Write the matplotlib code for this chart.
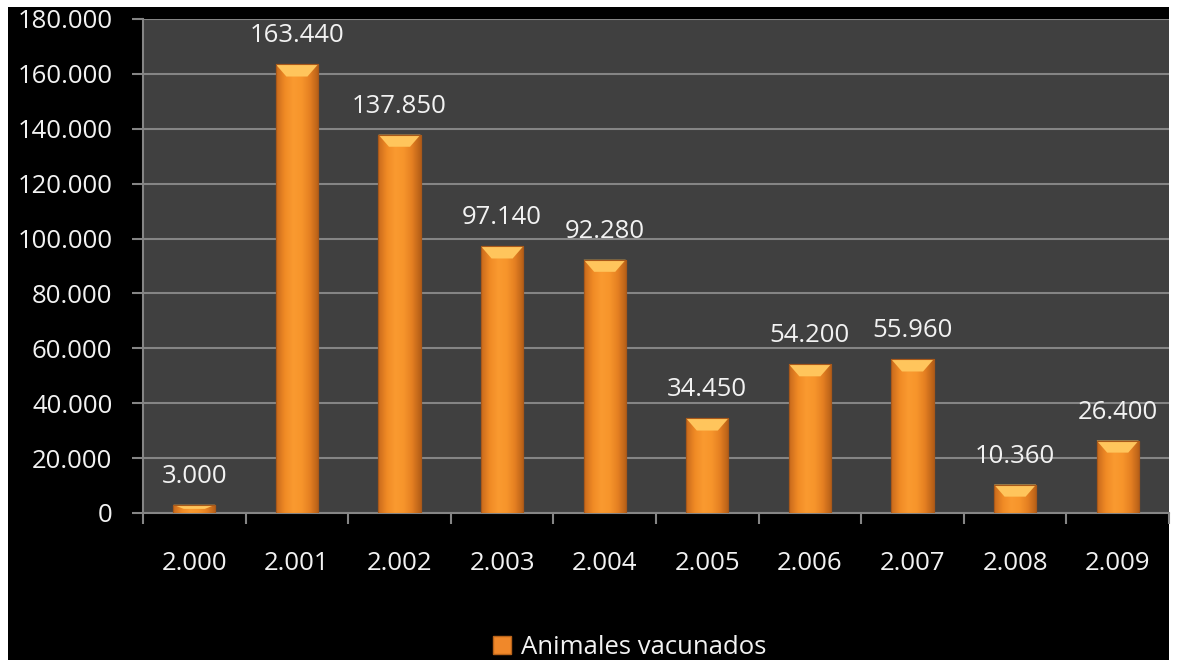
import numpy as np
import matplotlib
matplotlib.use("Agg")
import matplotlib.pyplot as plt
from matplotlib.patches import Rectangle, Polygon, Patch
from matplotlib.colors import LinearSegmentedColormap

# data
years = ["2.000", "2.001", "2.002", "2.003", "2.004",
         "2.005", "2.006", "2.007", "2.008", "2.009"]
vacunados = [3000, 163440, 137850, 97140, 92280, 34450, 54200, 55960, 10360, 26400]
y_ticks = [0, 20000, 40000, 60000, 80000, 100000, 120000, 140000, 160000, 180000]
series_name = "Animales vacunados"

plt.rcParams['font.family'] = ['Open Sans', 'DejaVu Sans']
FS = 18.5

W, H = 1178, 660
fig = plt.figure(figsize=(W / 100, H / 100), dpi=100, facecolor="white")

# black chart area with a thin white margin
fig.patches.append(Rectangle((8 / W, 0), (1169 - 8) / W, (H - 7) / H,
                             transform=fig.transFigure, facecolor="black",
                             edgecolor="none", zorder=-5))

ax = fig.add_axes([143 / W, (H - 513) / H, (1169 - 143) / W, (513 - 19) / H])
ax.set_zorder(1)
ax.set_facecolor("#404040")

def fmt(v):
    return f"{v:,}".replace(",", ".")

x = np.arange(len(years))
bars = ax.bar(x, vacunados, width=0.41, color="#F5922A", edgecolor="#B8631A",
              linewidth=0.8, zorder=3)

# orange gradient inside each bar + lighter bevel at the top
cmap = LinearSegmentedColormap.from_list(
    "bar", ["#C96A1C", "#F08A25", "#FA9A30", "#F7952B", "#E47F22", "#B55E17"])
grad = np.linspace(0, 1, 64).reshape(1, -1)
bevel_h = 4400
for b in bars:
    x0, w, h = b.get_x(), b.get_width(), b.get_height()
    im = ax.imshow(grad, cmap=cmap, extent=(x0, x0 + w, 0, h), aspect="auto",
                   zorder=3, interpolation="bicubic")
    im.set_clip_path(b)
    bh = min(bevel_h, h * 0.5)
    inset = w * 0.25
    ax.add_patch(Polygon([(x0, h), (x0 + w, h), (x0 + w - inset, h - bh),
                          (x0 + inset, h - bh)], closed=True,
                         facecolor="#FFC55C", edgecolor="none", zorder=4))
    ax.add_patch(Rectangle((x0, 0), w, h, facecolor="none",
                           edgecolor="#A8581A", linewidth=0.8, zorder=5))
    ax.annotate(fmt(h), (x0 + w / 2, h), xytext=(0, 16),
                textcoords="offset pixels", ha="center", va="bottom",
                color="#F2F2F2", fontsize=FS)

ax.set_xlim(-0.5, len(years) - 0.5)
ax.set_ylim(0, 180000)
ax.set_yticks(y_ticks)
ax.set_yticklabels([fmt(v) for v in y_ticks])
ax.set_xticks(x)
ax.set_xticklabels(years)
ax.set_xticks(np.arange(len(years) + 1) - 0.5, minor=True)

ax.grid(axis="y", color="#858585", linewidth=1.5, zorder=1)
ax.set_axisbelow(True)
for s in ["top", "right"]:
    ax.spines[s].set_visible(False)
for s in ["left", "bottom"]:
    ax.spines[s].set_color("#858585")
    ax.spines[s].set_linewidth(1.5)

ax.tick_params(axis="y", colors="#858585", labelcolor="#F2F2F2", length=8,
               width=1.5, pad=14, labelsize=FS)
ax.tick_params(axis="x", which="major", length=0, pad=27,
               labelcolor="#F2F2F2", labelsize=FS)
ax.tick_params(axis="x", which="minor", length=8, width=1.5, colors="#858585")

handle = Patch(facecolor="#F0882A", edgecolor="#B8631A")
leg = fig.legend([handle], [series_name], loc="center",
                 bbox_to_anchor=(630 / W, (H - 647) / H), frameon=False,
                 fontsize=FS, labelcolor="#F2F2F2", handlelength=0.7,
                 handleheight=0.7, handletextpad=0.4)

fig.savefig("out.png", dpi=100, facecolor="white")
